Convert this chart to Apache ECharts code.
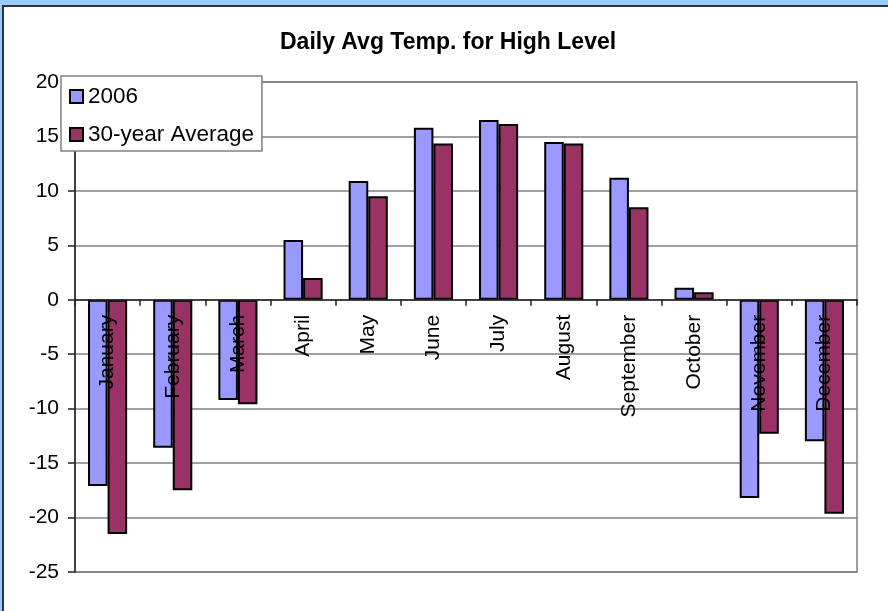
<!DOCTYPE html>
<html>
<head>
<meta charset="utf-8">
<script src="https://cdn.jsdelivr.net/npm/echarts@6/dist/echarts.min.js"></script>
<style>
  html, body { margin: 0; padding: 0; background: #99CCFF; overflow: hidden; }
  #frame { position: absolute; left: 2px; top: 5px; width: 900px; height: 620px;
           background: #ffffff; border-top: 2px solid #2e3440; border-left: 2px solid #2e3440; }
  #chart { position: absolute; left: 0; top: 0; width: 888px; height: 611px; }
</style>
</head>
<body>
<div id="frame"></div>
<div id="chart"></div>
<script>
const titleText = 'Daily Avg Temp. for High Level';
const months = ['January', 'February', 'March', 'April', 'May', 'June', 'July', 'August', 'September', 'October', 'November', 'December'];
const seriesNames = ['2006', '30-year Average'];
const values2006 = [-17.1, -13.6, -9.2, 5.5, 10.9, 15.8, 16.5, 14.5, 11.2, 1.1, -18.2, -13.0];
const valuesAvg = [-21.5, -17.5, -9.6, 2.0, 9.5, 14.35, 16.15, 14.35, 8.5, 0.7, -12.3, -19.65];
const yMin = -25, yMax = 20, yStep = 5;

const gridTop = 82, gridBottom = 39, chartH = 611;
const plotH = chartH - gridTop - gridBottom;
// move the category axis (line, ticks, labels) up to the value 0 line
const zeroOffset = -((0 - yMin) / (yMax - yMin)) * plotH;

const chart = echarts.init(document.getElementById('chart'), null, { renderer: 'canvas' });
const font = 'Liberation Sans, Arial, sans-serif';
chart.setOption({
  backgroundColor: 'transparent',
  animation: false,
  title: {
    text: titleText,
    left: 275,
    top: 26,
    textStyle: { fontFamily: font, fontSize: 23, fontWeight: 'bold', color: '#000' }
  },
  legend: {
    orient: 'vertical',
    left: 61,
    top: 76,
    data: seriesNames,
    icon: 'rect',
    itemWidth: 13,
    itemHeight: 13,
    itemGap: 13,
    padding: [8, 8, 4, 8],
    backgroundColor: '#fff',
    borderColor: '#808080',
    borderWidth: 1.5,
    z: 10,
    textStyle: { fontFamily: font, fontSize: 22.5, color: '#000', lineHeight: 25 }
  },
  grid: {
    left: 75, right: 31, top: gridTop, bottom: gridBottom,
    containLabel: false,
    outerBoundsMode: 'none',
    show: true,
    borderColor: '#808080',
    borderWidth: 1.5,
    backgroundColor: 'transparent'
  },
  xAxis: {
    type: 'category',
    data: months,
    position: 'bottom',
    offset: zeroOffset,
    z: 5,
    axisLine: { onZero: false, lineStyle: { color: '#222', width: 1.5 } },
    axisTick: { show: true, length: 6, inside: false, lineStyle: { color: '#222', width: 1.5 } },
    axisLabel: { rotate: 90, margin: 15, interval: 0, fontFamily: font, fontSize: 21, color: '#000' },
    splitLine: { show: false }
  },
  yAxis: {
    type: 'value',
    min: yMin, max: yMax, interval: yStep,
    axisLine: { show: true, lineStyle: { color: '#222', width: 1.5 } },
    axisTick: { show: true, length: 7, lineStyle: { color: '#222', width: 1.5 } },
    axisLabel: { margin: 16, fontFamily: font, fontSize: 21, color: '#000' },
    splitLine: { show: true, lineStyle: { color: '#808080', width: 1.5 } }
  },
  series: [
    {
      name: seriesNames[0], type: 'bar', data: values2006,
      barGap: '0%', barCategoryGap: '40%',
      itemStyle: { color: '#9999FF', borderColor: '#000', borderWidth: 2 }
    },
    {
      name: seriesNames[1], type: 'bar', data: valuesAvg,
      barGap: '0%', barCategoryGap: '40%',
      itemStyle: { color: '#993366', borderColor: '#000', borderWidth: 2 }
    }
  ]
});
</script>
</body>
</html>
